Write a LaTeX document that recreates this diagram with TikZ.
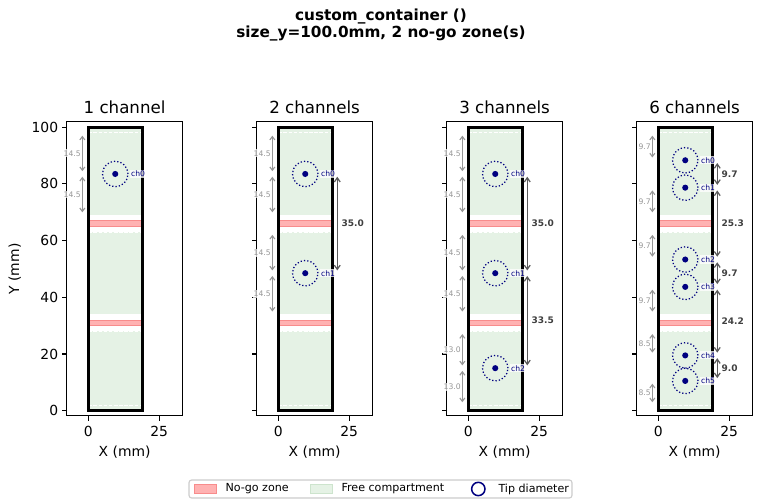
\documentclass[tikz,border=0pt]{standalone}
\usepackage{fontspec}
\setmainfont{DejaVu Sans}
\usetikzlibrary{arrows.meta,positioning,calc}

\definecolor{nogored}{RGB}{255,178,178}
\definecolor{nogoedge}{RGB}{248,140,140}
\definecolor{freegreen}{RGB}{229,242,229}
\definecolor{freeedge}{RGB}{205,228,205}
\definecolor{tipblue}{RGB}{0,0,128}
\definecolor{dimlight}{RGB}{150,150,150}
\definecolor{dimdark}{RGB}{90,90,90}
\definecolor{dimtext}{RGB}{64,64,64}
\definecolor{legendedge}{RGB}{204,204,204}

\tikzset{
  axesframe/.style={draw=black, line width=0.8pt},
  axtick/.style={draw=black, line width=0.8pt},
  ticklabel/.style={font=\fontsize{10}{12}\selectfont, inner sep=0pt},
  axtitle/.style={font=\fontsize{12}{14}\selectfont, anchor=base},
  axlabel/.style={font=\fontsize{10}{12}\selectfont},
  suptitle/.style={font=\fontsize{11}{13}\selectfont\bfseries, anchor=base},
  wall/.style={draw=black, line width=2pt},
  nogo/.style={fill=nogored, draw=nogoedge, line width=0.4pt},
  marginline/.style={draw=white, line width=0.7pt, dash pattern=on 2.6pt off 1.1pt},
  tipdot/.style={circle, fill=tipblue, inner sep=0pt, minimum size=4.4pt},
  tipring/.style={draw=tipblue, line width=0.9pt, dash pattern=on 0.9pt off 1.5pt},
  chlabel/.style={font=\fontsize{5.5}{6}\selectfont, text=tipblue, fill=white,
    fill opacity=0.75, text opacity=1, inner sep=0.8pt},
  leftdim/.style={draw=dimlight, line width=0.8pt, >={Straight Barb[length=2.4pt,width=3.6pt]},
    <->, shorten <=2pt, shorten >=2pt},
  leftlab/.style={font=\fontsize{5.5}{6}\selectfont, text=dimlight, fill=white,
    fill opacity=0.75, text opacity=1, inner sep=0.8pt, anchor=east},
  rightdim/.style={draw=dimdark, line width=0.9pt, >={Straight Barb[length=3pt,width=4.2pt]},
    <->, shorten <=2pt, shorten >=2pt},
  rightlab/.style={font=\fontsize{6.5}{7}\selectfont\bfseries, text=dimtext,
    inner sep=0.8pt, anchor=west, xshift=1.9pt},
  legbox/.style={draw=legendedge, line width=0.8pt, fill=white, rounded corners=2pt,
    minimum width=275.8pt, minimum height=13pt},
  legtext/.style={font=\fontsize{8}{9}\selectfont, inner sep=0pt},
  nogopatch/.style={fill=nogored, draw=nogoedge, line width=0.4pt,
    minimum width=16.3pt, minimum height=6.8pt, inner sep=0pt},
  freepatch/.style={fill=freegreen, draw=freeedge, line width=0.4pt,
    minimum width=16.3pt, minimum height=6.8pt, inner sep=0pt},
  tippatch/.style={circle, draw=tipblue, line width=1.1pt, minimum size=9.6pt, inner sep=0pt}
}

% container, compartments and axes shared by every panel (mm coordinates)
\newcommand{\emptycontainer}{%
  \draw[axesframe] (-7.6,-1.8) rectangle (33.25,101.9);
  \foreach \tk in {0,25}
    \draw[axtick] (\tk,-1.8) -- ++(0pt,-3.5pt) node[ticklabel, anchor=north, yshift=-3.5pt] {\tk};
  \foreach \tk in {0,20,...,100}
    \draw[axtick] (-7.6,\tk) -- ++(-3.5pt,0pt);
  \fill[freegreen] (0,0) rectangle (19,100);
  \fill[white] (0,63) rectangle (19,69);
  \fill[white] (0,28) rectangle (19,34);
  \draw[nogo] (0,65) rectangle (19,67);
  \draw[nogo] (0,30) rectangle (19,32);
  \foreach \m in {98,69,63,34,28,2}
    \draw[marginline] (0,\m) -- (19,\m);
  \draw[wall] (0,0) rectangle (19,100);
  \node[axlabel] (xlab) at (12.8,-14.6) {X (mm)};
  \coordinate (top) at (0,98);
  \coordinate (gap1t) at (0,69);
  \coordinate (gap1b) at (0,63);
  \coordinate (gap2t) at (0,34);
  \coordinate (gap2b) at (0,28);
  \coordinate (bot) at (0,2);
  \coordinate (lx) at (-2.1,0);
  \coordinate (rx) at (20.8,0);
}

\begin{document}
\begin{tikzpicture}[x=0.72pt, y=0.72pt]
  \useasboundingbox (0,0) rectangle (762,504);

  \node[suptitle] (sup1) at (381,483.3) {custom\_container ()};
  \node[suptitle] (sup2) at (381,466.3) {size\_y=100.0mm, 2 no-go zone(s)};

  % 1 channel
  \begin{scope}[shift={(88.3,93.3)}, x=2.0412pt, y=2.0412pt]
    \emptycontainer
    \foreach \tk in {0,20,...,100}
      \node[ticklabel, anchor=east] at ([xshift=-6pt]-7.6,\tk) {\tk};
    \node[axlabel, rotate=90] (ylab) at (-25.9,50) {Y (mm)};
    \node[axtitle] (title1) at (12.8,104.7) {1 channel};
    \foreach \yc [count=\i from 0] in {83.5} {
      \node[tipdot] (c\i) at (9.5,\yc) {};
      \draw[tipring] (c\i) circle[radius=4.5];
      \node[chlabel, right=8pt of c\i] {ch\i};
    }
    \foreach \a/\b/\v in {top/c0/14.5, c0/gap1t/14.5}
      \draw[leftdim] (\a -| lx) -- node[leftlab] {\v} (\b -| lx);
  \end{scope}

  % 2 channels
  \begin{scope}[shift={(278.3,93.3)}, x=2.0412pt, y=2.0412pt]
    \emptycontainer
    \node[axtitle] (title2) at (12.8,104.7) {2 channels};
    \foreach \yc [count=\i from 0] in {83.5,48.5} {
      \node[tipdot] (c\i) at (9.5,\yc) {};
      \draw[tipring] (c\i) circle[radius=4.5];
      \node[chlabel, right=8pt of c\i] {ch\i};
    }
    \foreach \a/\b/\v in {top/c0/14.5, c0/gap1t/14.5, gap1b/c1/14.5, c1/gap2t/14.5}
      \draw[leftdim] (\a -| lx) -- node[leftlab] {\v} (\b -| lx);
    \draw[rightdim] (c0 -| rx) -- node[rightlab] {35.0} (c1 -| rx);
  \end{scope}

  % 3 channels
  \begin{scope}[shift={(468.3,93.3)}, x=2.0412pt, y=2.0412pt]
    \emptycontainer
    \node[axtitle] (title3) at (12.8,104.7) {3 channels};
    \foreach \yc [count=\i from 0] in {83.5,48.5,15.0} {
      \node[tipdot] (c\i) at (9.5,\yc) {};
      \draw[tipring] (c\i) circle[radius=4.5];
      \node[chlabel, right=8pt of c\i] {ch\i};
    }
    \foreach \a/\b/\v in {top/c0/14.5, c0/gap1t/14.5, gap1b/c1/14.5, c1/gap2t/14.5,
                          gap2b/c2/13.0, c2/bot/13.0}
      \draw[leftdim] (\a -| lx) -- node[leftlab] {\v} (\b -| lx);
    \foreach \a/\b/\v in {c0/c1/35.0, c1/c2/33.5}
      \draw[rightdim] (\a -| rx) -- node[rightlab] {\v} (\b -| rx);
  \end{scope}

  % 6 channels
  \begin{scope}[shift={(658.3,93.3)}, x=2.0412pt, y=2.0412pt]
    \emptycontainer
    \node[axtitle] (title4) at (12.8,104.7) {6 channels};
    \foreach \yc [count=\i from 0] in {88.33,78.67,53.33,43.67,19.5,10.5} {
      \node[tipdot] (c\i) at (9.5,\yc) {};
      \draw[tipring] (c\i) circle[radius=4.5];
      \node[chlabel, right=8pt of c\i] {ch\i};
    }
    \foreach \a/\b/\v in {top/c0/9.7, c1/gap1t/9.7, gap1b/c2/9.7, c3/gap2t/9.7,
                          gap2b/c4/8.5, c5/bot/8.5}
      \draw[leftdim] (\a -| lx) -- node[leftlab] {\v} (\b -| lx);
    \foreach \a/\b/\v in {c0/c1/9.7, c1/c2/25.3, c2/c3/9.7, c3/c4/24.2, c4/c5/9.0}
      \draw[rightdim] (\a -| rx) -- node[rightlab] {\v} (\b -| rx);
  \end{scope}

  % legend
  \node[legbox] (legend) at (380.5,15) {};
  \node[nogopatch] (lgnogo) at (205.3,15) {};
  \node[legtext, right=6pt of lgnogo] (lgnogotext) {No-go zone};
  \node[freepatch] (lgfree) at (321.3,15) {};
  \node[legtext, right=6pt of lgfree] (lgfreetext) {Free compartment};
  \node[tippatch] (lgtip) at (478.3,15) {};
  \node[legtext, right=9pt of lgtip] (lgtiptext) {Tip diameter};
\end{tikzpicture}
\end{document}
